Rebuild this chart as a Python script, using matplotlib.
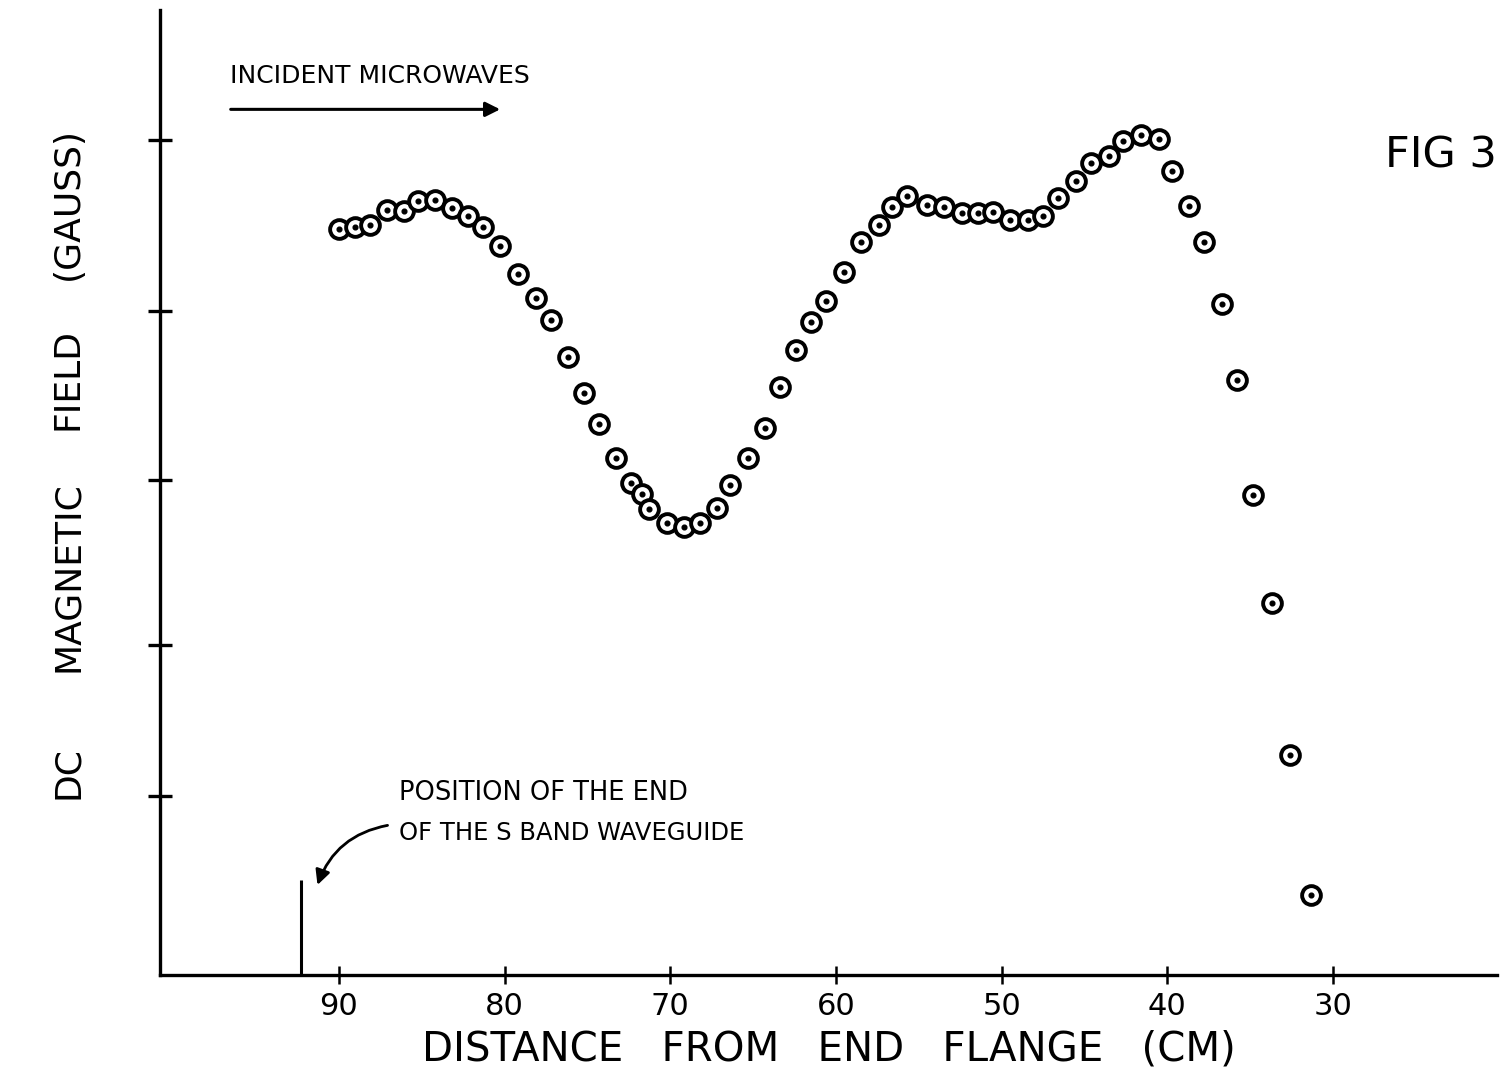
import matplotlib
matplotlib.use("Agg")
import matplotlib.pyplot as plt
from matplotlib.patches import FancyArrowPatch

# ---- data ----
distance_cm = [90.0, 89.05, 88.1, 87.1, 86.1, 85.2, 84.2, 83.2, 82.2, 81.3,
               80.3, 79.2, 78.1, 77.2, 76.2, 75.2, 74.3, 73.3, 72.4, 71.7,
               71.3, 70.2, 69.2, 68.2, 67.2, 66.4, 65.3, 64.3, 63.4, 62.4,
               61.5, 60.6, 59.5, 58.5, 57.4, 56.6, 55.7, 54.5, 53.5, 52.4,
               51.4, 50.5, 49.5, 48.4, 47.5, 46.6, 45.5, 44.6, 43.5, 42.7,
               41.6, 40.5, 39.7, 38.7, 37.8, 36.7, 35.8, 34.8, 33.7, 32.6, 31.3]
field = [4.439, 4.451, 4.464, 4.548, 4.543, 4.601, 4.611, 4.564, 4.514, 4.448,
         4.335, 4.168, 4.024, 3.895, 3.674, 3.460, 3.276, 3.073, 2.924, 2.859,
         2.774, 2.690, 2.667, 2.686, 2.778, 2.913, 3.076, 3.254, 3.498, 3.720,
         3.883, 4.008, 4.179, 4.359, 4.462, 4.567, 4.635, 4.583, 4.570, 4.534,
         4.532, 4.540, 4.490, 4.490, 4.512, 4.619, 4.724, 4.829, 4.871, 4.963,
         4.996, 4.970, 4.784, 4.573, 4.361, 3.994, 3.540, 2.857, 2.211, 1.307, 0.476]

x_ticks = [90, 80, 70, 60, 50, 40, 30]
x_tick_labels = ["90", "80", "70", "60", "50", "40", "30"]
y_ticks = [1.067, 1.964, 2.946, 3.948, 4.966]

waveguide_end_cm = 92.3
waveguide_marker_height = 0.565

x_label = "DISTANCE   FROM   END   FLANGE   (CM)"
y_label_words = ["DC", "MAGNETIC", "FIELD", "(GAUSS)"]

plt.rcParams['font.family'] = ['DejaVu Sans']

fig = plt.figure(figsize=(15.01, 10.86), dpi=100)
ax = fig.add_axes([0.1066, 0.1022, 0.8907, 0.8886])
ax.set_xlim(100.8, 20.1)
ax.set_ylim(0, 5.74)

# data points: open circle with a central dot
ax.plot(distance_cm, field, linestyle='none', marker='o', markersize=13.5,
        markerfacecolor='white', markeredgecolor='black', markeredgewidth=2.8,
        zorder=3)
ax.plot(distance_cm, field, linestyle='none', marker='o', markersize=3.4,
        markerfacecolor='black', markeredgecolor='black', zorder=4)

# waveguide end marker
ax.plot([waveguide_end_cm, waveguide_end_cm], [0, waveguide_marker_height],
        color='black', lw=2.2, solid_capstyle='butt')

# spines / ticks
for s in ['top', 'right']:
    ax.spines[s].set_visible(False)
for s in ['left', 'bottom']:
    ax.spines[s].set_linewidth(2.4)
ax.set_xticks(x_ticks)
ax.set_xticklabels(x_tick_labels, fontsize=22)
ax.set_yticks(y_ticks)
ax.set_yticklabels([])
ax.tick_params(axis='x', direction='inout', length=13, width=1.8, pad=6)
ax.tick_params(axis='y', direction='inout', length=17, width=2.4)

ax.set_xlabel(x_label, fontsize=29, labelpad=6)

# y label, word by word (hand-lettered spacing)
y_word_centers = [0.289, 0.469, 0.651, 0.813]
for word, yc in zip(y_label_words, y_word_centers):
    fig.text(0.045, yc, word, rotation=90, fontsize=26, ha='center', va='center')

# incident microwaves annotation
ax.text(96.6, 5.35, "INCIDENT MICROWAVES", fontsize=18, ha='left', va='center')
ax.annotate("", xy=(80.1, 5.149), xytext=(96.7, 5.149),
            arrowprops=dict(arrowstyle='-|>', color='black', lw=2.2,
                            mutation_scale=22))

# waveguide annotation
ax.text(86.4, 1.083, "POSITION OF THE END", fontsize=18.5, ha='left', va='center')
ax.text(86.4, 0.845, "OF THE S BAND WAVEGUIDE", fontsize=17.5, ha='left', va='center')
arrow = FancyArrowPatch((86.9, 0.893), (91.35, 0.52),
                        connectionstyle='arc3,rad=0.3', arrowstyle='-|>',
                        mutation_scale=22, color='black', lw=2.0)
ax.add_patch(arrow)

fig.text(0.997, 0.857, "FIG 3", fontsize=31, ha='right', va='center')

fig.savefig("out.png", dpi=100, facecolor='white')
